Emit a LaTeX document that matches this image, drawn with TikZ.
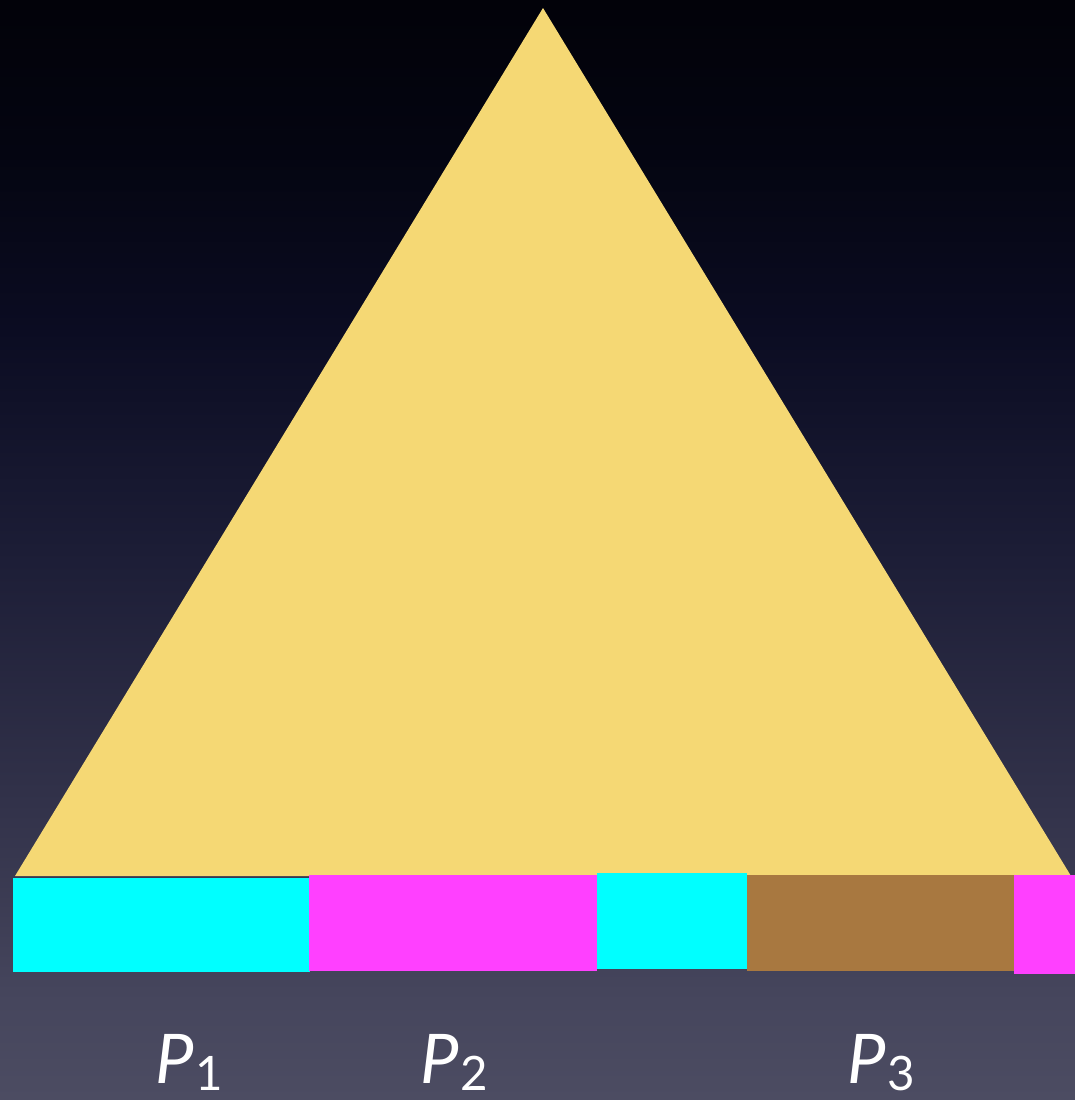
\documentclass[tikz,border=0pt]{standalone}
\usepackage{fontspec}
\setmainfont{Lato}
\usepackage{xcolor}
\definecolor{skya}{RGB}{76, 76, 98}
\definecolor{skyb}{RGB}{70, 70, 93}
\definecolor{skyc}{RGB}{50, 50, 74}
\definecolor{skyd}{RGB}{28, 29, 54}
\definecolor{skye}{RGB}{11, 12, 34}
\definecolor{skyf}{RGB}{4, 5, 17}
\definecolor{skyg}{RGB}{2, 2, 9}
\definecolor{pileyellow}{RGB}{245, 216, 116}
\definecolor{partcyan}{RGB}{0, 255, 255}
\definecolor{partmagenta}{RGB}{255, 64, 255}
\definecolor{partbrown}{RGB}{168, 120, 64}
\usetikzlibrary{positioning}

% the path covers 25bp..75bp of the 100bp shading
\pgfdeclareverticalshading{nightsky}{100bp}{color(0bp)=(skya); color(25bp)=(skya); color(29.5bp)=(skyb); color(38.5bp)=(skyc); color(50bp)=(skyd); color(60bp)=(skye); color(68bp)=(skyf); color(75bp)=(skyg); color(100bp)=(skyg)}

\newcommand{\plab}[1]{P\kern1pt\raisebox{-4pt}[\height][0pt]{\upshape\fontsize{27}{30}\selectfont #1}}

\begin{document}
\begin{tikzpicture}[x=0.02cm, y=-0.02cm]

  % background, dark at the top
  \shade[shading=nightsky] (0,0) rectangle (1075,1100);
  \useasboundingbox (0,0) rectangle (1075,1100);

  % the triangle
  \coordinate (apex) at (543,8);
  \coordinate (baseL) at (15,876);
  \coordinate (baseR) at (1071,876);
  \fill[pileyellow] (apex) -- (baseL) -- (baseR) -- cycle;

  % coloured pieces under the base
  \foreach \xa/\xb/\ya/\yb/\col in {
    13/310/878/972/partcyan,
    309/597/875/971/partmagenta,
    597/747/873/969/partcyan,
    747/1014/875/971/partbrown,
    1014/1075/875/974/partmagenta} {
    \fill[\col] (\xa,\ya) rectangle (\xb,\yb);
  }

  % labels
  \node[anchor=base, inner sep=0pt, text=white, font=\fontsize{39}{44}\selectfont\itshape] (p1) at (189,1083) {\plab{1}};
  \node[anchor=base, inner sep=0pt, text=white, font=\fontsize{39}{44}\selectfont\itshape] (p2) at (454,1083) {\plab{2}};
  \node[anchor=base, inner sep=0pt, text=white, font=\fontsize{39}{44}\selectfont\itshape] (p3) at (881,1083) {\plab{3}};
\end{tikzpicture}
\end{document}
